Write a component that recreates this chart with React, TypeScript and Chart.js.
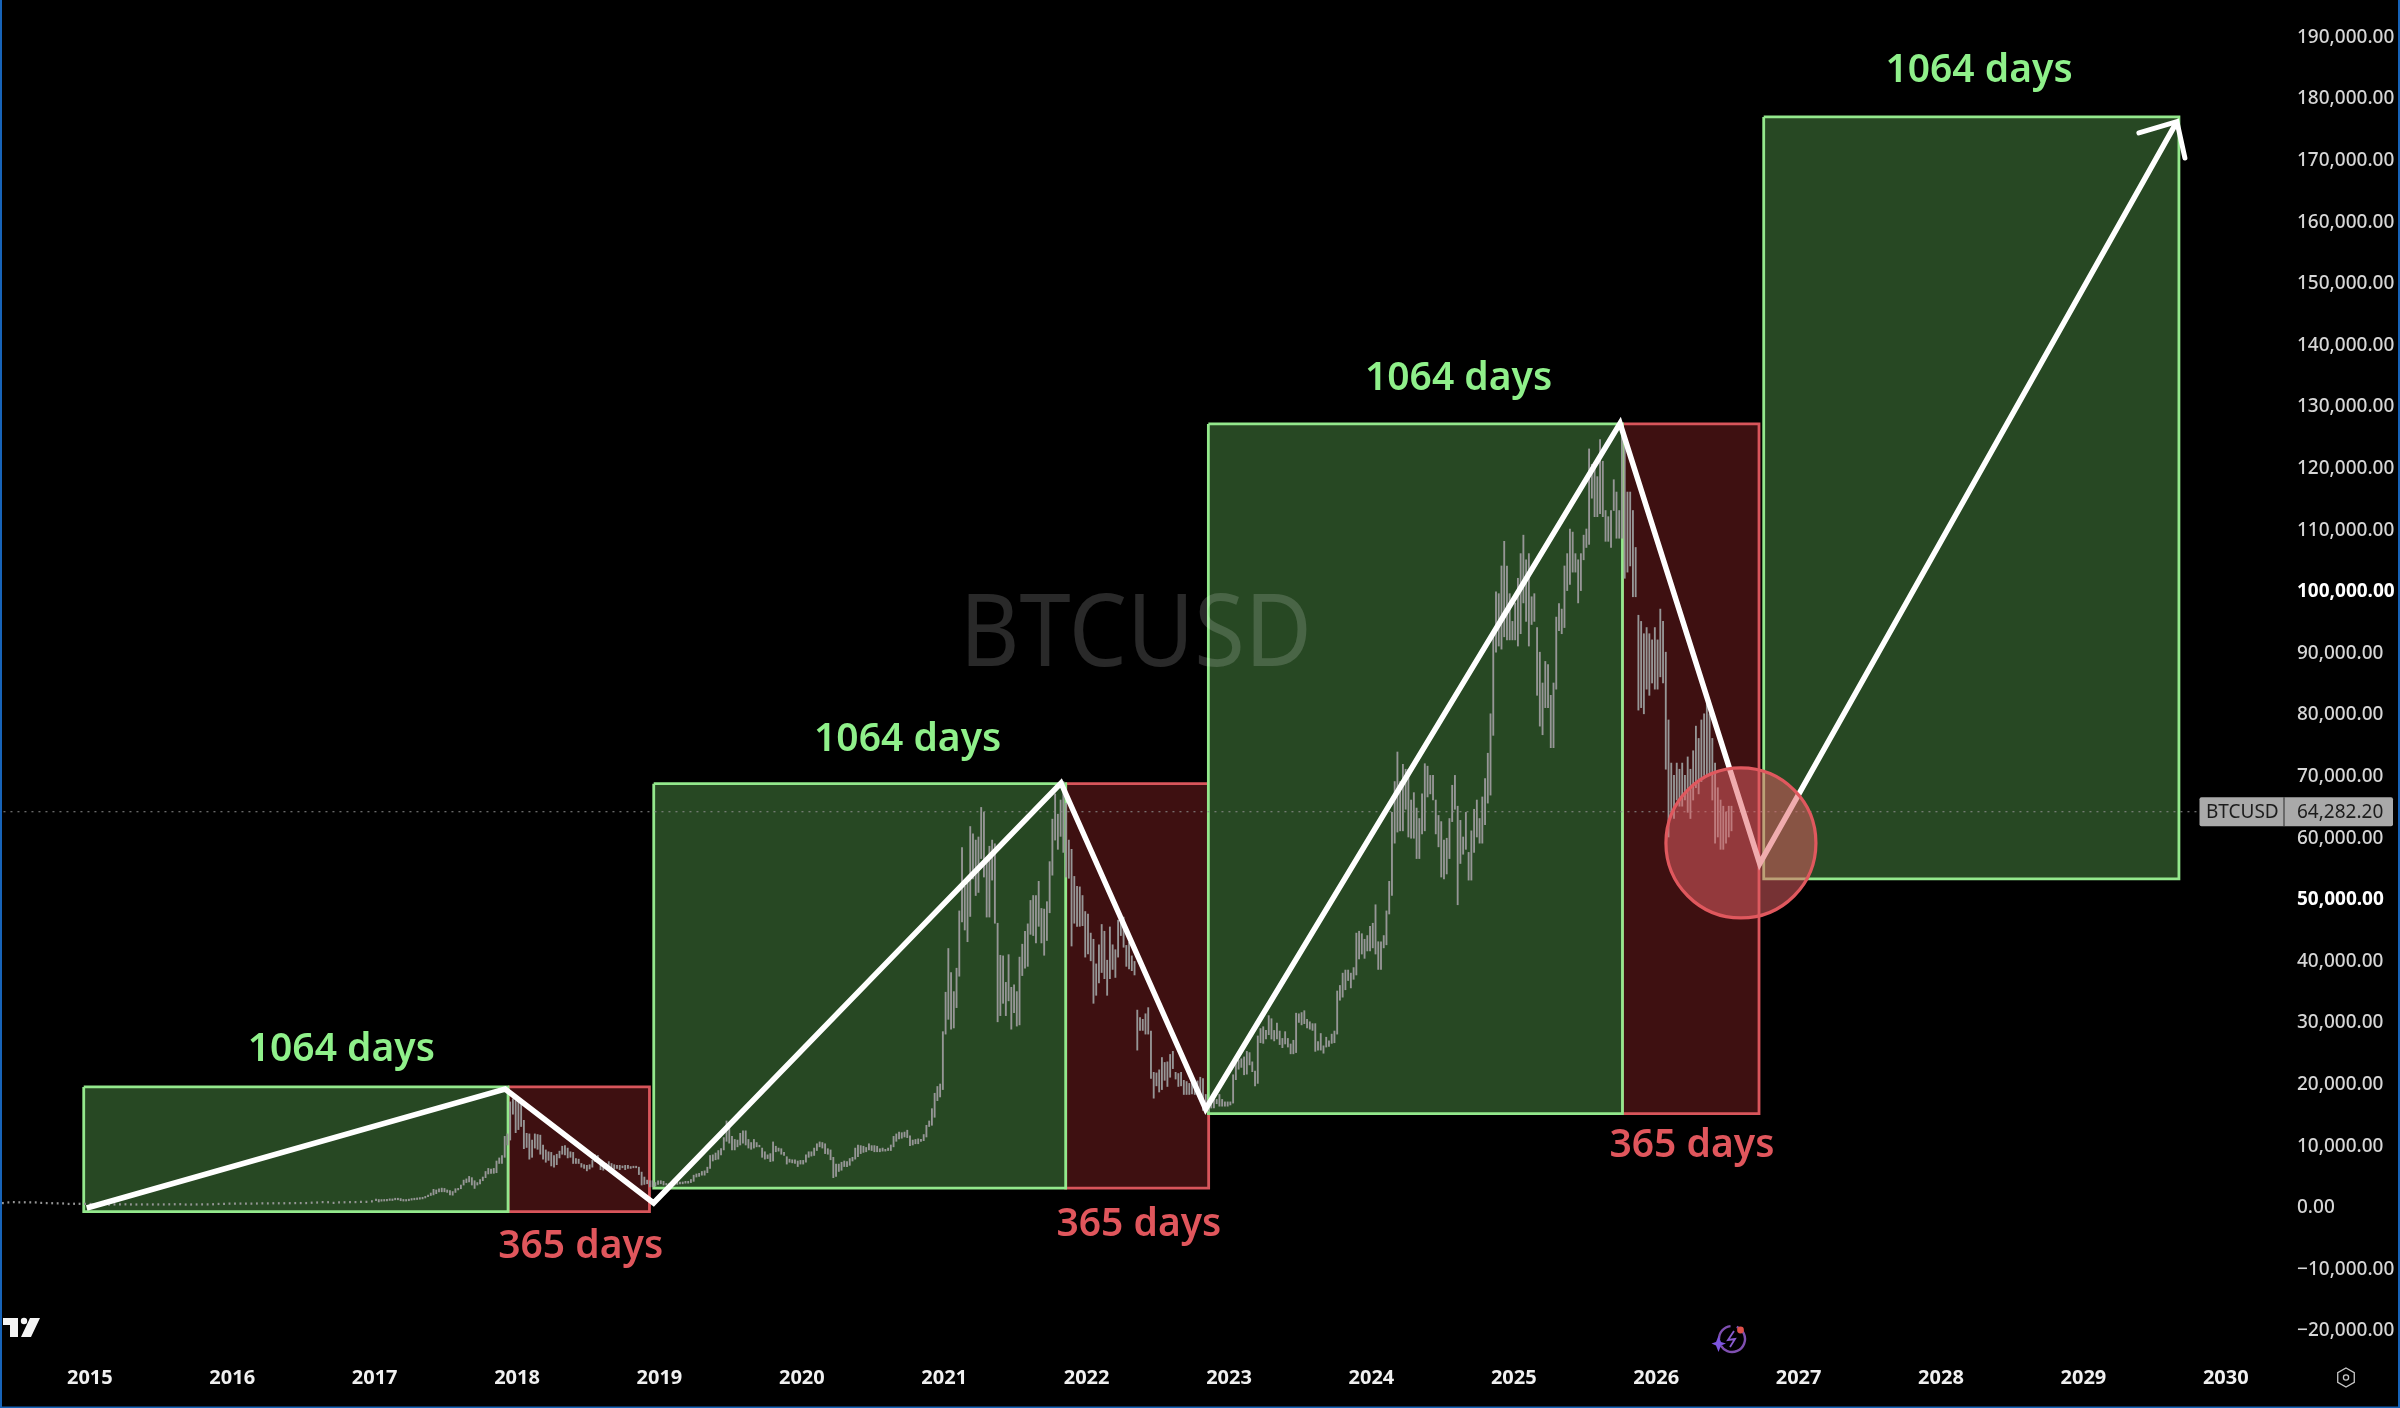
import React, { useEffect, useRef } from "react";
import { Chart, registerables } from "chart.js";

Chart.register(...registerables);

const FONT = '"Noto Sans", sans-serif';

// Prices are in thousands of US dollars.
const high2014 = [.6,.66,.67,.65,.63,.62,.6,.6,.52,.5,.48,.45,.42,.38,.38,.37,.35];
const low2014 = [.44,.55,.6,.56,.57,.56,.55,.47,.44,.42,.4,.38,.3,.33,.32,.31,.29];
const high2015 = [.3,.28,.26,.25,.24,.29,.28,.25,.24,.24,.24,.23,.24,.25,.25,.27,.3,.29,.23,.24,.24,.25,.33,.45,.42,.46];
const low2015 = [.2,.17,.21,.21,.22,.23,.24,.22,.21,.22,.22,.22,.22,.22,.24,.25,.26,.2,.21,.22,.23,.23,.25,.3,.32,.35];
const high2016 = [.46,.43,.39,.41,.42,.44,.43,.42,.43,.46,.46,.46,.46,.53,.59,.72,.68,.67,.62,.61,.6,.62,.64,.72,.74,.97];
const low2016 = [.35,.36,.36,.35,.37,.40,.39,.41,.41,.41,.42,.44,.44,.44,.5,.53,.6,.58,.47,.54,.57,.6,.6,.62,.64,.72];
const high2017 = [1.15,1.15,.95,.93,1.03,1.06,1.13,1.2,1.3,1.3,1.05,1.05,1.1,1.2,1.22,1.25,1.3,1.45,1.6,1.85,2.2,2.8,2.7,2.9,3,2.95,2.7,2.6,2.45,2.9,2.9,3.5,4.3,4.5,4.9,4.7,4.2,3.9,4.4,4.8,5.7,6.2,6.1,6.2,7.4,7.9,8.3,11.4,11.8,17,17.5,17.2];
const low2017 = [.95,.75,.88,.9,.92,1,.98,1.1,1.1,.95,.9,.9,.95,1.05,1.1,1.15,1.2,1.25,1.4,1.6,1.8,1.9,2.1,2.4,2.4,2.4,2.3,1.9,1.85,2.3,2.7,2.9,3.5,3.9,4,3.5,2.95,3.5,3.7,4.2,4.7,5.3,5.4,5.4,5.5,7,7,8,10,10.8,15,12];
const high2018 = [17.2,17.2,14,11.9,11.8,10.8,11.8,11.7,11.6,10,9.2,8.9,8.8,8.3,8.5,9,9.8,9.9,9.5,8.9,8.8,7.8,7.7,7,6.8,6.7,6.8,7.5,8.4,8.3,7.5,6.5,7,7.3,7,6.8,6.7,6.7,6.6,6.7,6.7,6.5,6.5,6.5,6.4,5.6,4.8,4.3,4.2,4.2,3.9,4.2];
const low2018 = [12.5,13,9.4,9.6,7.7,8,9.5,9.3,8.5,7.7,7.2,7.5,6.6,6.4,6.8,7.9,8.5,8.4,7.9,8,7,7,7,6.4,6.2,5.8,6.1,6.4,7.3,7.3,6,5.9,6.2,6.4,6.3,6.1,6.2,6,6.3,6,6.2,6.2,6.3,6.3,5.2,3.5,3.6,3.7,3.2,3.2,3.3,3.6];
const high2019 = [4.2,4.1,3.7,3.7,3.6,4.2,4,4,4,4.1,4.1,4.4,5.1,5.3,5.4,5.7,5.8,6.4,8.3,8.4,8.7,9.1,9.4,11.2,13.9,13.2,11.4,10.9,10.8,11.9,12.3,12.3,10.9,10.4,10.9,10.4,9.9,9.5,8.9,8.4,8.6,10.5,9.8,9.5,9.4,8.8,8.1,7.7,7.6,7.6,7.4,7.5];
const low2019 = [3.7,3.5,3.5,3.4,3.4,3.5,3.6,3.7,3.7,3.8,3.8,3.9,4.1,4.8,4.9,5.1,5.1,5.5,6.2,7.4,7.6,7.7,8.4,9.2,10.6,10.3,9.2,9.2,9.7,10,10.3,10,9.5,9.3,9.5,9.7,9.7,8,7.7,7.8,7.3,7.4,8.9,9,8.5,8.3,6.9,7.2,7.1,7,6.5,6.9];
const high2020 = [7.5,8.4,8.9,8.9,9.5,10.2,10.5,10.4,10.2,9.4,9.2,8,6.9,6.9,7.2,7.4,7.3,7.8,8,9.5,10,9.9,9.8,9.6,10.2,9.9,9.9,9.8,9.4,9.5,9.3,9.5,10,11.4,11.8,12.1,12,12.1,12.4,11.5,10.8,10.9,11,10.9,11.7,13.2,13.9,15.9,18.4,19.5,19.9,28.4];
const low2020 = [6.9,7.2,8,8.2,8.3,9.1,9.7,9.5,8.6,8.5,7.6,4.7,4.9,5.7,5.9,6.5,6.5,6.7,7.4,7.7,8.1,8.6,8.8,8.9,9.2,9.1,8.9,8.9,8.9,9,9,9.1,9.1,9.7,10.6,11,11.1,11.3,11.2,9.9,10,10.2,10.2,10.6,10.7,11.3,13,13.2,14.5,17.2,17.8,19];
const high2021 = [34.8,41.9,38,34.9,38.7,48,58.3,52,52.6,61.7,60.5,59.5,60,64.8,64,56.4,58.5,59.5,58.9,46,40.8,40.7,36.4,40.9,35.6,36,34.9,40.5,42.6,44.7,45.9,49.7,50.5,50.5,52.8,48.4,48.3,49.5,56,62.9,67,63.7,66,69,65.5,59.5,58,53.6,52,51.9,50.5,47.9];
const low2021 = [28,30.4,28.8,29,32.3,37.4,46.2,44.9,43,47.1,53.2,50.5,51,56.5,53.5,47,47,53,46,30,31,33,31,33.4,28.8,31.5,29.3,29.5,37.5,38.7,39,44.2,44,42.8,45.5,42.8,40.8,43.2,47.7,53.8,59.5,58,60.1,57.5,53.5,53.3,42.3,46,45.5,45.5,45.6,40.5];
const high2022 = [47.5,44.4,43.4,39.4,42.5,45.8,44.7,40,45.4,42.5,41.7,46.5,47.4,47,42.4,42.9,40.7,39.8,31.9,30.7,30.4,31.3,32.3,28.5,21.8,21.7,22.2,24.2,23.4,23.5,24.7,25.2,21.8,21.6,21.8,20.5,20.3,20,20,19.7,20.4,21,20.8,18.2,17.3,17,17.9,17.4,18.2,17.4,17,17];
const low2022 = [41,39.9,33,34.3,36.3,38,37,34.3,37,38.5,37.2,40.5,44,42.1,39,38.6,38.3,37.6,25.4,28.6,28.6,28,28,20.8,17.6,19.6,18.6,19,20.5,19.5,21,22.4,20.7,19.5,19.6,18.2,18.2,18.2,18.3,18.2,18.6,18.2,15.6,15.6,15.5,16,16,16.7,16.3,16.3,16.3,16.3];
const high2023 = [17,21.4,23.3,23.8,24,24.3,25.2,25,23.5,22,27.7,28.9,29.2,28.6,31,30.5,28.6,29.8,28.5,27.3,28.4,27.3,26.4,27,31.4,31.3,31.5,31.8,30.4,30,29.7,29.7,26.8,28.1,26.1,27.5,26.9,28,28.5,35,35.9,37.9,38.4,38.4,37.9,38.8,44.4,44.7,44.3,43.4,44,45.5];
const low2023 = [16.5,16.8,20.6,22.3,22.6,21.4,21.5,23,21.9,19.6,20,26.6,26.5,27.2,27.9,27.2,26.9,27.2,26.3,25.8,26.4,25.9,24.8,24.8,25,29.9,29.5,29.7,29,28.8,28.6,25.2,25.4,25.4,24.9,25.9,26,26.5,26.6,28,33.5,34,35.2,36.7,35.5,36.9,37.6,40.2,41,40.3,41.5,41.5];
const high2024 = [46,49,43,43,44,48,52.8,64,69,73.8,69,71.8,71,71,66,67.2,64.7,63,67,71.9,71.5,70,70,66,63.5,62.5,59.5,59.8,63,68.4,70,65,62.7,60,64,57.5,61,64.5,66,63,66.5,69.5,73.6,80,93.5,99.8,99.5,104,108,104,99.5,95];
const low2024 = [42,41,38.5,38.5,42,42.5,47.5,50.5,59,60.8,61,61,64.5,60,59.8,59.8,56.5,56.5,60.5,61,66.5,67,66,60.5,58.4,53.5,53.2,54,56.5,62.5,64.5,49,55.7,57.2,58,53,53,57.5,60,59,59,62,65.5,66.8,76.5,90,91,90.5,92.5,92,92,92];
const high2025 = [98,102,106,109,105,106,99,99.5,94,90,85,88.5,88,83,85,95.7,97.9,97,104,106,110,109.5,106,105,106,109,110,123,120.5,120,118.5,124.5,121,113,112,113,118,116,113,126,123.5,116,116,113,107,96,95,93,94,93,92,94];
const low2025 = [92,91,93,98,95,91,94.5,95,83,78,76.6,81,81,74.5,74.5,84,93.5,93,94,100,101,103,103,98,100,105,107,107.5,115,112,112,112.5,112,108,108,107,113,108.5,108.5,108.5,102,103,104,99,99,80.6,81,80,84,83,85,84];
const high2026 = [92,97,95,90,79,72,70,72,71,72,70,73,71,74,78,76,79,80,82,80,76,72,68,66,65,64,65,65];
const low2026 = [84,86,85,71,60,64,63,66,65,65,66,64,63,66,68,67,69,70,70,70,66,59,60,58,58,59,60,61];

const priceSegments = [
  { start: 2014.37, perYear: 26, high: high2014, low: low2014 },
  { start: 2015, perYear: 26, high: high2015, low: low2015 },
  { start: 2016, perYear: 26, high: high2016, low: low2016 },
  { start: 2017, perYear: 52, high: high2017, low: low2017 },
  { start: 2018, perYear: 52, high: high2018, low: low2018 },
  { start: 2019, perYear: 52, high: high2019, low: low2019 },
  { start: 2020, perYear: 52, high: high2020, low: low2020 },
  { start: 2021, perYear: 52, high: high2021, low: low2021 },
  { start: 2022, perYear: 52, high: high2022, low: low2022 },
  { start: 2023, perYear: 52, high: high2023, low: low2023 },
  { start: 2024, perYear: 52, high: high2024, low: low2024 },
  { start: 2025, perYear: 52, high: high2025, low: low2025 },
  { start: 2026, perYear: 52, high: high2026, low: low2026 },
];

// [left year, right year, top k$, bottom k$]
const greenBoxes = [
  [2014.957, 2017.937, 19.42, -0.83],
  [2018.96, 2021.853, 68.65, 3.0],
  [2022.855, 2025.763, 127.05, 15.08],
  [2026.755, 2029.671, 176.9, 53.2],
];
const redBoxes = [
  [2017.937, 2018.93, 19.42, -0.83],
  [2021.853, 2022.857, 68.65, 3.0],
  [2025.763, 2026.722, 127.05, 15.08],
];
const zigzag = [
  [2014.978, -0.23],
  [2017.916, 19.09],
  [2018.959, 0.58],
  [2021.82, 68.77],
  [2022.836, 15.84],
  [2025.746, 127.16],
  [2026.727, 55.67],
  [2029.657, 176.12],
];
const arrowHead = [
  [2029.39, 174.29],
  [2029.657, 176.12],
  [2029.713, 170.23],
];
const highlight = [2026.595, 59.03];
const greenLabels = [
  [2016.766, 25.91],
  [2020.743, 76.23],
  [2024.612, 134.84],
  [2028.267, 184.85],
];
const redLabels = [
  [2018.447, -6.02],
  [2022.367, -2.5],
  [2026.251, 10.37],
];
const symbol = "BTCUSD";
const lastPrice = "64,282.20";
const priceLineLevel = 64.1;
const priceLineEnd = 2029.9;
const watermarkAt = [2022.345, 92.4];
const greenText = "1064 days";
const redText = "365 days";

const pt = ([x, y]: number[]) => ({ x, y });
const boxPath = ([l, r, t, b]: number[]) =>
  [[l, t], [r, t], [r, b], [l, b], [l, t]].map(pt);

const priceBars = priceSegments.flatMap((s) =>
  s.high.map((h, i) => ({
    x: s.start + (i + 0.5) / s.perYear,
    y: [s.low[i], h],
  }))
);

const boxDataset = (box: number[], border: string, fill: string) => ({
  type: "line",
  data: boxPath(box),
  borderColor: border,
  backgroundColor: fill,
  borderWidth: 2.8,
  pointRadius: 0,
  fill: "shape",
  tension: 0,
  order: 10,
  borderJoinStyle: "miter",
});

const isRound = (c: any) => c?.tick?.value === 50 || c?.tick?.value === 100;

const overlayPlugin = {
  id: "overlay",
  afterDatasetsDraw(chart: any) {
    const { ctx, scales } = chart;
    const X = scales.x, Y = scales.y;
    const px = (v: number) => X.getPixelForValue(v);
    const py = (k: number) => Y.getPixelForValue(k);
    ctx.save();
    // watermark
    ctx.save();
    ctx.translate(px(watermarkAt[0]), py(watermarkAt[1]));
    ctx.scale(0.92, 1);
    ctx.font = `400 100px ${FONT}`;
    ctx.textAlign = "center";
    ctx.textBaseline = "middle";
    ctx.fillStyle = "rgba(255,255,255,0.16)";
    ctx.fillText(symbol, 0, 0);
    ctx.restore();
    // annotations
    ctx.textAlign = "center";
    ctx.textBaseline = "alphabetic";
    ctx.font = `600 39px ${FONT}`;
    ctx.fillStyle = "#8ff08a";
    greenLabels.forEach(([x, y]) => ctx.fillText(greenText, px(x), py(y) + 14));
    ctx.fillStyle = "#e0565c";
    redLabels.forEach(([x, y]) => ctx.fillText(redText, px(x), py(y) + 14));

    // price tag
    const tagY = py(priceLineLevel);
    ctx.fillStyle = "#a9a9a9";
    ctx.beginPath();
    ctx.roundRect(2199.5, tagY - 14.5, 193.5, 29, 2);
    ctx.fill();
    ctx.fillStyle = "#2a2a2a";
    ctx.fillRect(2283.5, tagY - 14.5, 1, 29);
    ctx.fillStyle = "#1c1c1c";
    ctx.font = `400 19px ${FONT}`;
    ctx.textAlign = "left";
    ctx.textBaseline = "middle";
    ctx.fillText(symbol, 2206, tagY + 1);
    ctx.fillText(lastPrice, 2297, tagY + 1);

    // TradingView mark
    ctx.fillStyle = "#f4f4f4";
    ctx.beginPath();
    ctx.moveTo(3, 1318); ctx.lineTo(18, 1318); ctx.lineTo(18, 1337); ctx.lineTo(10, 1337);
    ctx.lineTo(10, 1325); ctx.lineTo(3, 1325); ctx.closePath();
    ctx.moveTo(30, 1318); ctx.lineTo(40, 1318); ctx.lineTo(31, 1337); ctx.lineTo(21, 1337);
    ctx.closePath();
    ctx.fill();
    ctx.beginPath();
    ctx.arc(24, 1321, 3.2, 0, Math.PI * 2);
    ctx.fill();

    // assistant icon
    ctx.strokeStyle = "#7f4fb0";
    ctx.lineWidth = 2.4;
    ctx.beginPath();
    ctx.arc(1732, 1339, 13, -1.2, 2.6);
    ctx.stroke();
    ctx.beginPath();
    ctx.arc(1732, 1339, 13, 3.1, 4.6);
    ctx.stroke();
    ctx.strokeStyle = "#8a5cd0";
    ctx.lineWidth = 1.8;
    ctx.beginPath();
    ctx.moveTo(1734, 1331); ctx.lineTo(1728, 1340); ctx.lineTo(1735, 1339); ctx.lineTo(1730, 1347);
    ctx.stroke();
    ctx.fillStyle = "#7d55e0";
    ctx.beginPath();
    ctx.moveTo(1718.5, 1336); ctx.lineTo(1721, 1342); ctx.lineTo(1726, 1343.5); ctx.lineTo(1721, 1345.5);
    ctx.lineTo(1718.5, 1352); ctx.lineTo(1716, 1345.5); ctx.lineTo(1711.5, 1343.5); ctx.lineTo(1716, 1342);
    ctx.closePath();
    ctx.fill();
    ctx.fillStyle = "#e0504a";
    ctx.beginPath();
    ctx.arc(1740.5, 1330, 3.4, 0, Math.PI * 2);
    ctx.fill();

    // settings hexagon
    ctx.strokeStyle = "#c8c8c8";
    ctx.lineWidth = 1.3;
    ctx.beginPath();
    const hx = 2346, hy = 1377.5, hr = 9.5;
    [[0, -1], [0.87, -0.5], [0.87, 0.5], [0, 1], [-0.87, 0.5], [-0.87, -0.5]].forEach(([a, b], i) =>
      i ? ctx.lineTo(hx + a * hr, hy + b * hr) : ctx.moveTo(hx + a * hr, hy + b * hr)
    );
    ctx.closePath();
    ctx.stroke();
    ctx.beginPath();
    ctx.arc(hx, hy, 2.6, 0, Math.PI * 2);
    ctx.stroke();

    // window frame
    ctx.fillStyle = "#1763b8";
    ctx.fillRect(0, 0, 2, 1408);
    ctx.fillRect(2398, 0, 2, 1408);
    ctx.fillRect(0, 1406.5, 2400, 1.5);
    ctx.restore();
  },
};

export default function App() {
  const ref = useRef<HTMLCanvasElement>(null);
  useEffect(() => {
    document.body.style.margin = "0";
    document.body.style.background = "#000";
    const chart = new Chart(ref.current as any, {
      type: "line",
      data: {
        datasets: [
          ...greenBoxes.map((b) => boxDataset(b, "#93e88c", "#274823")),
          ...redBoxes.map((b) => boxDataset(b, "#d8555b", "#3e1011")),
          {
            type: "bar",
            data: priceBars,
            backgroundColor: "#969696",
            barThickness: 1.2,
            minBarLength: 1.6,
            grouped: false,
            order: 8,
          },
          {
            type: "line",
            data: [pt([2014, priceLineLevel]), pt([priceLineEnd, priceLineLevel])],
            borderColor: "#8c8c8c",
            borderWidth: 1.2,
            borderDash: [2, 5],
            pointRadius: 0,
            order: 6,
          },
          {
            type: "line",
            data: zigzag.map(pt),
            borderColor: "#ffffff",
            borderWidth: 5.5,
            pointRadius: 0,
            tension: 0,
            borderJoinStyle: "miter",
            order: 4,
          },
          {
            type: "line",
            data: arrowHead.map(pt),
            borderColor: "#ffffff",
            borderWidth: 5,
            borderCapStyle: "round",
            pointRadius: 0,
            tension: 0,
            order: 4,
          },
          {
            type: "scatter",
            data: [pt(highlight)],
            pointRadius: 75,
            pointBorderWidth: 3.2,
            pointBorderColor: "#e0585e",
            pointBackgroundColor: "rgba(226,96,100,0.52)",
            order: 2,
          },
        ],
      } as any,
      options: {
        responsive: false,
        animation: false,
        devicePixelRatio: 1,
        layout: { padding: 0, autoPadding: false },
        plugins: { legend: { display: false }, tooltip: { enabled: false } },
        events: [],
        scales: {
          x: {
            type: "linear",
            position: "bottom",
            offset: false,
            min: 2014.369,
            max: 2030.451,
            grid: { display: false, drawTicks: false },
            border: { display: false },
            afterFit: (s: any) => {
              s.height = 58;
              s.paddingLeft = 0;
              s.paddingRight = 0;
            },
            ticks: {
              stepSize: 1,
              includeBounds: false,
              autoSkip: false,
              maxRotation: 0,
              minRotation: 0,
              padding: 16,
              color: "#f0f0f0",
              font: { family: FONT, size: 20, weight: "700" },
              callback: (v: any) => String(v),
            },
          },
          y: {
            type: "linear",
            position: "right",
            min: -23.28,
            max: 195.877,
            grid: { display: false, drawTicks: false },
            border: { display: false },
            afterFit: (s: any) => {
              s.width = 110;
              s.paddingTop = 0;
              s.paddingBottom = 0;
            },
            ticks: {
              stepSize: 10,
              includeBounds: false,
              autoSkip: false,
              padding: 7,
              labelOffset: 1.2,
              crossAlign: "near",
              color: (c: any) => (isRound(c) ? "#ffffff" : "#d6d6d6"),
              font: (c: any) => ({
                family: FONT,
                size: 19,
                weight: isRound(c) ? "700" : "500",
              }),
              callback: (v: any) => {
                const n = Number(v) * 1000;
                const body = Math.abs(n).toLocaleString("en-US", {
                  minimumFractionDigits: 2,
                  maximumFractionDigits: 2,
                });
                return n < 0 ? `\u2212${body}` : body;
              },
            },
          },
        },
      } as any,
      plugins: [overlayPlugin],
    } as any);
    return () => chart.destroy();
  }, []);
  return (
    <div style={{ position: "absolute", left: 0, top: 0, width: 2400, height: 1408, background: "#000" }}>
      <canvas ref={ref} width={2400} height={1408} style={{ display: "block" }} />
    </div>
  );
}
